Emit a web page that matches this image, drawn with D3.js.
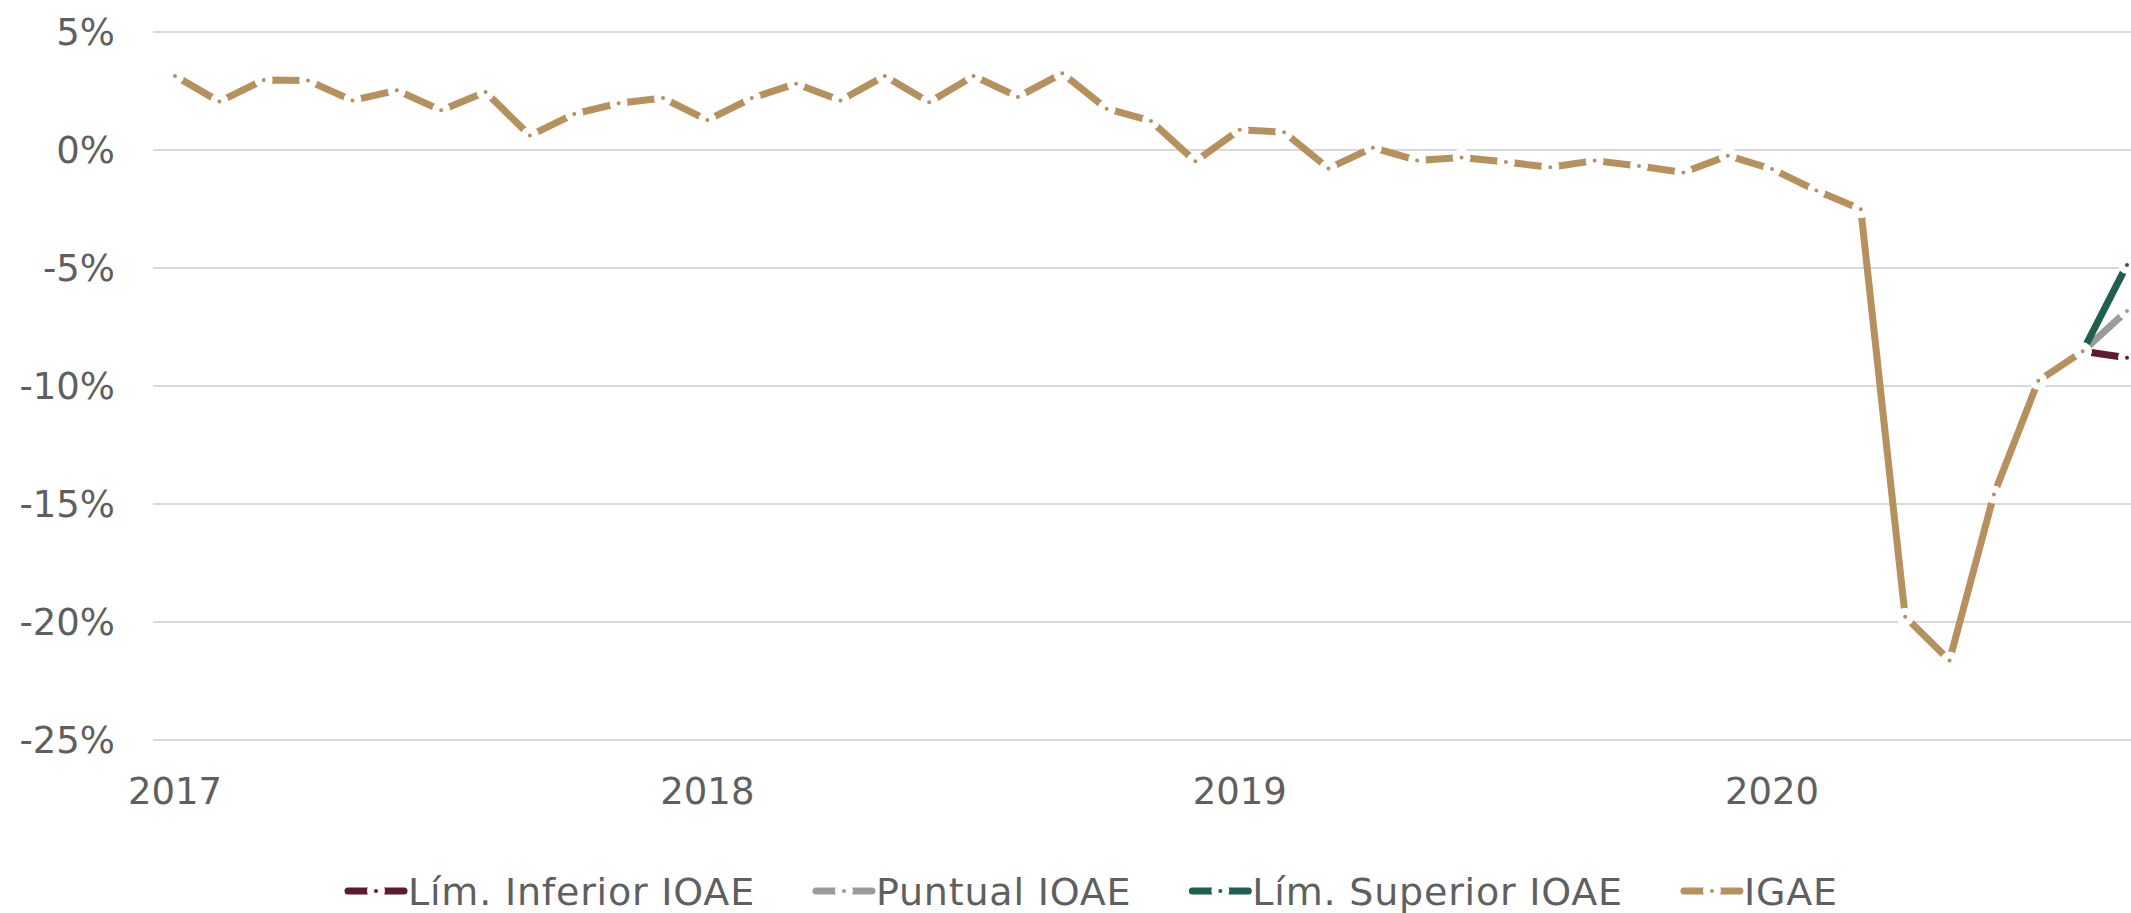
<!DOCTYPE html>
<html>
<head>
<meta charset="utf-8">
<script src="https://cdn.jsdelivr.net/npm/d3@7"></script>
<style>
  html, body { margin: 0; padding: 0; background: #fff; }
  svg { display: block; }
  .tick-label { font-family: "DejaVu Sans", "Open Sans", sans-serif; fill: #5f5f5f; }
</style>
</head>
<body>
<svg id="chart"></svg>
<script>
'use strict'
// monthly categories Jan 2017 .. Sep 2020
const months = d3.timeMonth.range(new Date(2017, 0, 1), new Date(2020, 9, 1))
  .map(d3.timeFormat('%Y-%m'))

// IGAE, annual % change, Jan 2017 - Aug 2020
const igae = [
  3.14, 2.05, 2.97, 2.94, 2.10, 2.53, 1.68, 2.46, 0.61, 1.53, 1.98, 2.20,
  1.27, 2.20, 2.81, 2.10, 3.14, 2.02, 3.14, 2.25, 3.25, 1.75, 1.23, -0.48,
  0.86, 0.75, -0.78, 0.10, -0.44, -0.32, -0.51, -0.73, -0.45, -0.68, -0.95, -0.24,
  -0.81, -1.72, -2.51, -19.78, -21.63, -14.60, -9.78, -8.53
]
// IOAE nowcast, Aug 2020 -> Sep 2020
const ioaeMonths = ['2020-08', '2020-09']
const limInferior = [-8.53, -8.80]
const puntual = [-8.53, -6.82]
const limSuperior = [-8.53, -4.87]

const yTicks = [5, 0, -5, -10, -15, -20, -25]
const yearTicks = ['2017-01', '2018-01', '2019-01', '2020-01']

const W = 2131, H = 913

const svg = d3.select('#chart').attr('width', W).attr('height', H)

const x = d3.scalePoint().domain(months).range([175, 2127])
const y = d3.scaleLinear().domain([-25, 5]).range([740, 32])

// grid + y labels
svg.append('g')
  .selectAll('line')
  .data(yTicks)
  .enter().append('line')
  .attr('x1', 153).attr('x2', W)
  .attr('y1', d => y(d)).attr('y2', d => y(d))
  .attr('stroke', '#d9d9d9')
  .attr('stroke-width', 2)

svg.append('g')
  .selectAll('text')
  .data(yTicks)
  .enter().append('text')
  .attr('class', 'tick-label')
  .attr('x', 115)
  .attr('y', d => y(d))
  .attr('dy', '0.35em')
  .attr('text-anchor', 'end')
  .style('font-size', '37px')
  .text(d => d + '%')

// year labels
svg.append('g')
  .selectAll('text')
  .data(yearTicks)
  .enter().append('text')
  .attr('class', 'tick-label')
  .attr('x', d => x(d))
  .attr('y', 791)
  .attr('dy', '0.35em')
  .attr('text-anchor', 'middle')
  .style('font-size', '37px')
  .text(d => d.slice(0, 4))

const series = [
  { name: 'Lím. Inferior IOAE', color: '#5f1a33', cats: ioaeMonths, vals: limInferior },
  { name: 'Puntual IOAE', color: '#9b9b9b', cats: ioaeMonths, vals: puntual },
  { name: 'Lím. Superior IOAE', color: '#1f5f52', cats: ioaeMonths, vals: limSuperior },
  { name: 'IGAE', color: '#b6905d', cats: months.slice(0, igae.length), vals: igae }
]

const line = d3.line().x(d => x(d[0])).y(d => y(d[1]))

const drawMarker = function(g, cx, cy, color) {
  g.append('circle')
    .attr('cx', cx).attr('cy', cy)
    .attr('r', 5.5)
    .attr('fill', color)
    .attr('stroke', '#fff')
    .attr('stroke-width', 7)
}

series.forEach(s => {
  const pts = s.vals.map((v, i) => [s.cats[i], v])
  const g = svg.append('g')
  g.append('path')
    .attr('d', line(pts))
    .attr('fill', 'none')
    .attr('stroke', s.color)
    .attr('stroke-width', 7)
    .attr('stroke-linejoin', 'round')
  pts.forEach(p => drawMarker(g, x(p[0]), y(p[1]), s.color))
})

// legend
const legend = svg.append('g')
let lx = 345
const ly = 891
series.forEach(s => {
  const g = legend.append('g')
  g.append('line')
    .attr('x1', lx + 3).attr('x2', lx + 59)
    .attr('y1', ly).attr('y2', ly)
    .attr('stroke', s.color)
    .attr('stroke-width', 7)
    .attr('stroke-linecap', 'round')
  drawMarker(g, lx + 31, ly, s.color)
  const t = g.append('text')
    .attr('class', 'tick-label')
    .attr('x', lx + 63)
    .attr('y', ly)
    .attr('dy', '0.36em')
    .style('font-size', '38px')
    .style('letter-spacing', '0.8px')
    .text(s.name)
  lx += 63 + t.node().getComputedTextLength() + 58
})
</script>
</body>
</html>
